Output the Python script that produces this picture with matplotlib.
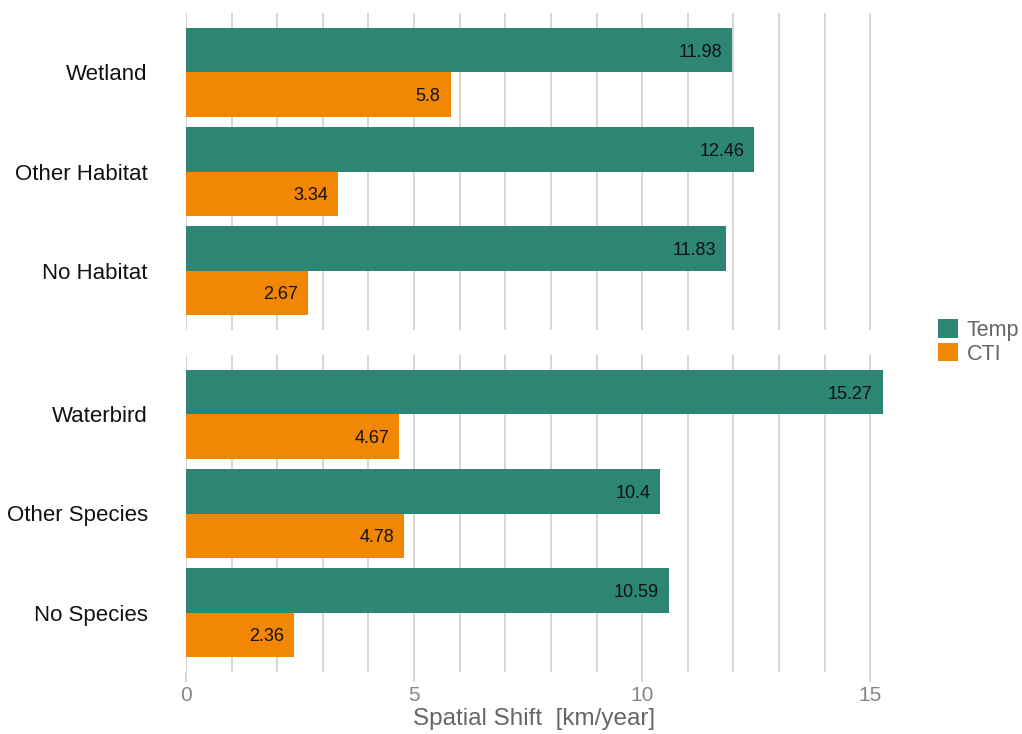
import matplotlib
matplotlib.use("Agg")
import matplotlib.pyplot as plt
from matplotlib.patches import Patch

plt.rcParams['font.family'] = ['Liberation Sans', 'DejaVu Sans']

panel1_cats = ["Wetland", "Other Habitat", "No Habitat"]
panel1_temp = [11.98, 12.46, 11.83]
panel1_cti = [5.8, 3.34, 2.67]

panel2_cats = ["Waterbird", "Other Species", "No Species"]
panel2_temp = [15.27, 10.4, 10.59]
panel2_cti = [4.67, 4.78, 2.36]

series_names = ["Temp", "CTI"]
colors = {"Temp": "#2d8574", "CTI": "#f28705"}
xticks = [0, 5, 10, 15]

W, H = 1022, 734
fig = plt.figure(figsize=(W / 100, H / 100), dpi=100)
left, right = 186 / W, 883 / W
ax1 = fig.add_axes([left, 1 - 330 / H, right - left, (330 - 13) / H])
ax2 = fig.add_axes([left, 1 - 672 / H, right - left, (672 - 355) / H])

grid_color = "#cccccc"

def draw(ax, cats, temp, cti, bottom):
    ys = list(range(len(cats)))
    h = 0.45
    for name, vals, off in (("Temp", temp, -h / 2), ("CTI", cti, h / 2)):
        yy = [y + off for y in ys]
        ax.barh(yy, vals, height=h, color=colors[name], zorder=2, clip_on=False)
        for y, v in zip(yy, vals):
            ax.annotate(f"{v:g}", xy=(v, y), xytext=(-10, 0), textcoords="offset pixels",
                        ha="right", va="center_baseline", fontsize=13, color="#111111", zorder=3)
    ax.set_xlim(0, 15.28)
    ax.set_ylim(len(cats) - 0.4, -0.6)
    ax.set_yticks(ys)
    ax.set_yticklabels(cats, fontsize=16, color="#111111")
    ax.tick_params(axis="y", length=0, pad=27.5)
    for x in range(0, 16):
        ax.axvline(x, color=grid_color, lw=1.1, zorder=1)
    for s in ax.spines.values():
        s.set_visible(False)
    ax.set_xticks(xticks)
    if bottom:
        ax.tick_params(axis="x", length=7.2, width=1.1, color=grid_color,
                       labelsize=15, labelcolor="#858585", pad=3)
        ax.set_xlabel("Spatial Shift  [km/year]", fontsize=17.5, color="#666666", labelpad=2)
    else:
        ax.tick_params(axis="x", length=0, labelbottom=False)

draw(ax1, panel1_cats, panel1_temp, panel1_cti, False)
draw(ax2, panel2_cats, panel2_temp, panel2_cti, True)

handles = [Patch(facecolor=colors[n], edgecolor="none") for n in series_names]
leg = fig.legend(handles, series_names, loc="center left",
                 bbox_to_anchor=(938 / W, 1 - 342 / H), frameon=False,
                 fontsize=15.5, handlelength=0.95, handleheight=0.95,
                 handletextpad=0.38, labelspacing=0.08, borderpad=0, borderaxespad=0)
for t in leg.get_texts():
    t.set_color("#666666")

fig.savefig("out.png", dpi=100)
